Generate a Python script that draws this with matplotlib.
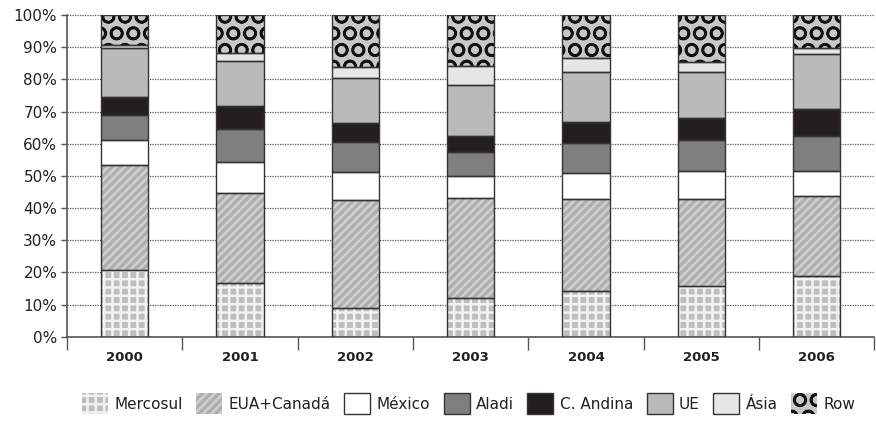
import matplotlib
matplotlib.use('Agg')
import matplotlib.pyplot as plt
import numpy as np
from matplotlib.ticker import FixedLocator, PercentFormatter

# Export shares by destination, % of total per year
years = ['2000', '2001', '2002', '2003', '2004', '2005', '2006']
mercosul = [20.7, 16.8, 9.0, 12.1, 14.3, 15.8, 18.9]
eua_canada = [32.7, 27.8, 33.5, 30.9, 28.5, 27.0, 24.8]
mexico = [7.7, 9.6, 8.8, 6.9, 8.2, 8.7, 7.8]
aladi = [7.8, 10.3, 9.1, 7.6, 9.1, 9.6, 11.0]
c_andina = [5.7, 7.2, 5.9, 4.9, 6.7, 6.8, 8.3]
ue = [15.2, 14.0, 14.2, 15.8, 15.6, 14.5, 17.0]
asia = [0.9, 2.4, 3.4, 6.0, 4.1, 3.1, 2.0]
row = [9.3, 11.9, 16.1, 15.8, 13.5, 14.5, 10.2]

series = [
    ('Mercosul', mercosul),
    ('EUA+Canadá', eua_canada),
    ('México', mexico),
    ('Aladi', aladi),
    ('C. Andina', c_andina),
    ('UE', ue),
    ('Ásia', asia),
    ('Row', row),
]

# face colour, hatch pattern, hatch colour
styles = {
    'Mercosul': ('#bdbdbd', '++', '#f2f2f2'),
    'EUA+Canadá': ('#aeaeae', '////', '#d0d0d0'),
    'México': ('#ffffff', None, None),
    'Aladi': ('#7f7f7f', None, None),
    'C. Andina': ('#231f20', None, None),
    'UE': ('#bababa', None, None),
    'Ásia': ('#e6e6e6', None, None),
    'Row': ('#c8c8c8', 'O', '#111111'),
}

plt.rcParams['font.family'] = 'DejaVu Sans'
plt.rcParams['hatch.linewidth'] = 1.8
text_color = '#231f20'

fig = plt.figure(figsize=(8.76, 4.34), dpi=100)
ax = fig.add_axes([0.0765, 0.2242, 0.9215, 0.7412])

x = np.arange(len(years))
width = 0.41
bottom = np.zeros(len(years))
handles = []
for name, vals in series:
    vals = np.array(vals)
    face, hatch, hcol = styles[name]
    if hatch:
        ax.bar(x, vals, width, bottom=bottom, color=face, hatch=hatch,
               edgecolor=hcol, linewidth=0, zorder=2)
    else:
        ax.bar(x, vals, width, bottom=bottom, color=face, linewidth=0, zorder=2)
    ax.bar(x, vals, width, bottom=bottom, facecolor='none',
           edgecolor='#333333', linewidth=1.0, zorder=3)
    # legend swatch
    h = plt.Rectangle((0, 0), 1, 1, facecolor=face, hatch=hatch,
                      edgecolor=hcol if hatch else '#333333',
                      linewidth=0 if hatch else 1.0)
    handles.append(h)
    bottom += vals

ax.set_xlim(-0.5, len(years) - 0.5)
ax.set_ylim(0, 100)
ax.yaxis.set_major_locator(FixedLocator(np.arange(0, 101, 10)))
ax.yaxis.set_major_formatter(PercentFormatter(decimals=0))
ax.yaxis.grid(True, linestyle=(0, (1, 1)), color='#555555', linewidth=0.9, zorder=0)
ax.set_axisbelow(True)

ax.set_xticks(x)
ax.set_xticklabels(years, fontsize=9.5, fontweight='bold', color=text_color)
ax.set_xticks(np.arange(-0.5, len(years)), minor=True)
ax.tick_params(axis='x', which='major', length=0, pad=10)
ax.tick_params(axis='x', which='minor', length=9, width=1, color='#555555', direction='out')
ax.tick_params(axis='y', length=4, width=1, color='#555555', labelsize=11,
               labelcolor=text_color, pad=3)

for side in ('top', 'right'):
    ax.spines[side].set_visible(False)
for side in ('left', 'bottom'):
    ax.spines[side].set_color('#555555')
    ax.spines[side].set_linewidth(1.2)

fig.legend(handles, [s[0] for s in series], loc='center', bbox_to_anchor=(0.535, 0.07),
           ncol=8, frameon=False, fontsize=11, handlelength=1.7, handleheight=1.7,
           handletextpad=0.4, columnspacing=0.9, labelcolor=text_color)

fig.savefig('out.png', dpi=100)
